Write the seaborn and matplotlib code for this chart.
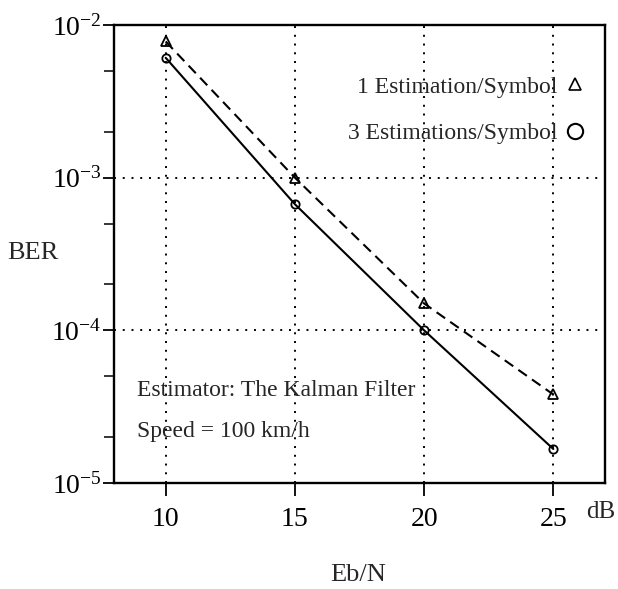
import matplotlib
matplotlib.use("Agg")
import matplotlib.pyplot as plt
import seaborn as sns
import numpy as np
from matplotlib.lines import Line2D
from matplotlib.ticker import LogLocator, FixedLocator, FuncFormatter, NullFormatter

# Data
snr_db = [10, 15, 20, 25]
ber_1_est = [7.8e-3, 1.0e-3, 1.5e-4, 3.8e-5]
ber_3_est = [6.1e-3, 6.7e-4, 1.0e-4, 1.67e-5]
series_labels = ["1 Estimation/Symbol", "3 Estimations/Symbol"]
x_ticks = [10, 15, 20, 25]
y_major = [1e-5, 1e-4, 1e-3, 1e-2]

sns.set_style("ticks")
plt.rcParams['font.family'] = ['Liberation Serif', 'DejaVu Serif']
plt.rcParams['mathtext.fontset'] = 'custom'
plt.rcParams['mathtext.rm'] = 'Liberation Serif'
plt.rcParams['mathtext.it'] = 'Liberation Serif:italic'

fig = plt.figure(figsize=(6.18, 5.89), dpi=100)
ax = fig.add_axes([114/618, 1-483/589, (605-114)/618, (483-25)/589])

sns.lineplot(x=snr_db, y=ber_1_est, ax=ax, color='black', linestyle=(0, (5, 3)),
             lw=1.5, marker='^', markersize=7, markerfacecolor='none',
             markeredgecolor='black', markeredgewidth=1.3)
sns.lineplot(x=snr_db, y=ber_3_est, ax=ax, color='black', linestyle='-',
             lw=1.5, marker='o', markersize=6, markerfacecolor='none',
             markeredgecolor='black', markeredgewidth=1.3)

ax.set_yscale('log')
ax.set_xlim(8, 27)
ax.set_ylim(1e-5, 1e-2)

ax.xaxis.set_major_locator(FixedLocator(x_ticks))
ax.yaxis.set_major_locator(FixedLocator(y_major))
ax.yaxis.set_minor_locator(LogLocator(base=10, subs=(2.0, 5.0)))
ax.yaxis.set_minor_formatter(NullFormatter())
ax.yaxis.set_major_formatter(FuncFormatter(
    lambda v, p: r"$\mathregular{10^{%d}}$" % int(round(np.log10(v)))))

ax.tick_params(axis='x', which='major', direction='out', length=9, width=1.3,
               labelsize=20, pad=8, colors='black')
ax.tick_params(axis='y', which='major', direction='out', length=8, width=1.3,
               labelsize=20, pad=1, colors='black')
ax.tick_params(axis='y', which='minor', direction='out', length=7, width=1.3)

for s in ax.spines.values():
    s.set_color('black')
    s.set_linewidth(1.7)

# dotted grid
ax.grid(False)
for xv in x_ticks:
    ax.axvline(xv, color='black', lw=1.4, linestyle=(0, (1, 3.5)), zorder=0)
for yv in [1e-4, 1e-3]:
    ax.axhline(yv, color='black', lw=1.4, linestyle=(0, (1, 3.5)), zorder=0)

ax.set_xlabel("Eb/N", fontsize=19)
ax.xaxis.set_label_coords((358-114)/491, (483-575)/458)
ax.xaxis.label.set_va('center')
ax.set_ylabel("BER", fontsize=19, rotation=0, va='center', ha='center')
ax.yaxis.set_label_coords((33-114)/491, 0.502)

ax.text((601-114)/491, (483-512)/458, "dB", transform=ax.transAxes, fontsize=18,
        ha='center', va='center')

ax.text((137-114)/491, (483-390)/458, "Estimator: The Kalman Filter",
        transform=ax.transAxes, fontsize=17, ha='left', va='center')
ax.text((137-114)/491, (483-432)/458, "Speed = 100 km/h",
        transform=ax.transAxes, fontsize=17, ha='left', va='center')

handles = [
    Line2D([], [], color='black', linestyle='none', marker='^', markersize=9,
           markerfacecolor='none', markeredgewidth=1.2),
    Line2D([], [], color='black', linestyle='none', marker='o', markersize=11,
           markerfacecolor='none', markeredgewidth=1.5),
]
leg = ax.legend(handles, series_labels, loc='upper right', markerfirst=False,
                frameon=False, fontsize=17, bbox_to_anchor=((587-114)/491, (483-76)/458),
                borderpad=0, borderaxespad=0,
                handlelength=1.0, handletextpad=0.25, labelspacing=1.05)

fig.savefig("out.png", dpi=100)
